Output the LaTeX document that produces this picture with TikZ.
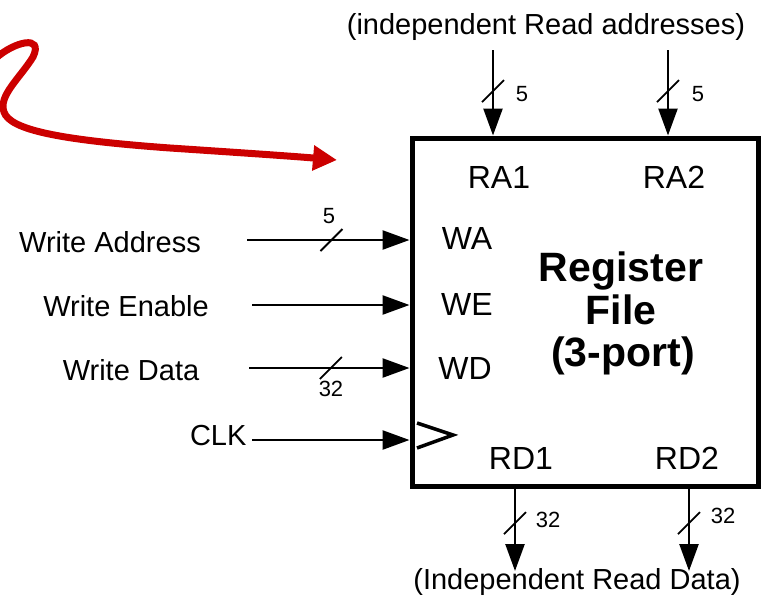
\documentclass[tikz,border=0pt]{standalone}
\usepackage{fontspec}
\setmainfont{Liberation Sans}
\usetikzlibrary{arrows.meta}
\definecolor{hinweis}{RGB}{204,0,0}

\begin{document}
\begin{tikzpicture}[x=1pt, y=-1pt, %Pixelraster, y nach unten
    bus/.style={line width=2.5pt, -{Triangle[length=27pt, width=19pt]}},
    slash/.style={line width=1.8pt},
    lbl/.style={anchor=base, font=\fontsize{29}{34}\selectfont},
    port/.style={anchor=base, font=\fontsize{32}{38}\selectfont},
    bits/.style={anchor=base, font=\fontsize{22}{26}\selectfont},
    titel/.style={anchor=base, font=\bfseries\fontsize{41}{44}\selectfont}]
  \useasboundingbox (0,0) rectangle (769,606);
  % Registerblock
  \node[draw, line width=5pt, minimum width=346pt, minimum height=348pt, inner sep=0pt] (rf) at (585,312) {};
  \node[titel] (reg) at (621,281) {Register};
  \node[titel] (file) at (621,324) {File};
  \node[titel] (ports) at (623,366) {(3-port)};
  % Anschluesse im Block
  \node[port] (ra1) at (499,188) {RA1};
  \node[port] (ra2) at (674,188) {RA2};
  \node[port] (wa) at (467,249) {WA};
  \node[port] (we) at (467,315) {WE};
  \node[port] (wd) at (465,379) {WD};
  \node[port] (rd1) at (521,469) {RD1};
  \node[port] (rd2) at (687,469) {RD2};
  \draw[line width=3.5pt] (417,423) -- (453,435) -- (417,448); %Takteingang
  % Leseadressen
  \node[lbl] (raddr) at (546,34) {(independent Read addresses)};
  \coordinate (ra1 in) at (493,50);
  \coordinate (ra2 in) at (668,50);
  \draw[bus] (ra1 in) -- coordinate[pos=0.48] (ra1 s) (ra1 in |- rf.north);
  \draw[bus] (ra2 in) -- coordinate[pos=0.48] (ra2 s) (ra2 in |- rf.north);
  \draw[slash] (ra1 s) ++(-11,11) -- ++(22,-22);
  \draw[slash] (ra2 s) ++(-11,11) -- ++(22,-22);
  \node[bits] (ra1 w) at (522,101) {5};
  \node[bits] (ra2 w) at (698,101) {5};
  % Schreibseite
  \node[lbl] (waddr) at (110,252) {Write Address};
  \node[lbl] (wen) at (126,316) {Write Enable};
  \node[lbl] (wdata) at (131,380) {Write Data};
  \node[lbl, anchor=base east] (clk) at (250,445) {CLK};
  \coordinate (wa in) at (247,240);
  \coordinate (we in) at (252,305);
  \coordinate (wd in) at (249,368);
  \coordinate (clk in) at (252,440);
  \draw[bus] (wa in) -- coordinate[pos=0.52] (wa s) (wa in -| rf.west);
  \draw[bus] (we in) -- (we in -| rf.west);
  \draw[bus] (wd in) -- coordinate[pos=0.51] (wd s) (wd in -| rf.west);
  \draw[bus] (clk in) -- (clk in -| rf.west);
  \draw[slash] (wa s) ++(-11,11) -- ++(22,-22);
  \draw[slash] (wd s) ++(-11,11) -- ++(22,-22);
  \node[bits] (wa w) at (329,223) {5};
  \node[bits] (wd w) at (331,396) {32};
  % Lesedaten
  \coordinate (rd1 out) at (515,571);
  \coordinate (rd2 out) at (689,571);
  \draw[bus] (rd1 out |- rf.south) -- coordinate[pos=0.42] (rd1 s) (rd1 out);
  \draw[bus] (rd2 out |- rf.south) -- coordinate[pos=0.42] (rd2 s) (rd2 out);
  \draw[slash] (rd1 s) ++(-11,11) -- ++(22,-22);
  \draw[slash] (rd2 s) ++(-11,11) -- ++(22,-22);
  \node[bits] (rd1 w) at (548,527) {32};
  \node[bits] (rd2 w) at (723,523) {32};
  \node[lbl] (rdata) at (577,589) {(Independent Read Data)};
  % roter Hinweispfeil
  \coordinate (hint) at (337,160);
  \draw[hinweis, line width=7pt, line cap=round, -{Triangle[length=24pt, width=24pt]}]
    (-4,58) .. controls (14,42) and (44,34) .. (33,57)
    .. controls (20,78) and (-2,96) .. (4,112)
    .. controls (10,130) and (60,140) .. (170,148)
    .. controls (230,152) and (290,156) .. (hint);
\end{tikzpicture}
\end{document}
